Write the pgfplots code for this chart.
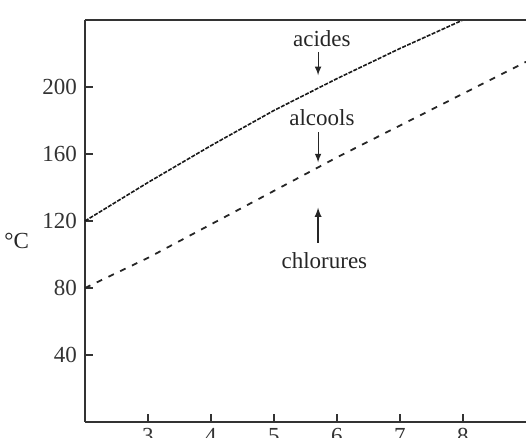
\documentclass[border=0pt]{standalone}
\usepackage{fontspec}
\setmainfont{Liberation Serif}
\usepackage{pgfplots}
\pgfplotsset{compat=1.18}
\begin{document}
\fontsize{11.5}{13}\selectfont
\begin{tikzpicture}
\begin{axis}[
  scale only axis, width=220.5pt, height=201pt,
  at={(0,0)}, anchor=south west,
  xmin=2, xmax=9, ymin=0, ymax=240,
  axis lines=left, axis line style={-, black!80, line width=0.8pt},
  xtick={3,4,5,6,7,8}, ytick={40,80,120,160,200},
  tick align=inside, major tick length=4pt,
  tick style={black!80, line width=0.6pt},
  /pgf/number format/assume math mode=true,
  ticklabel style={font=\fontsize{11.5}{13}\selectfont, text=black!80},
  xticklabel style={yshift=1pt},
  clip=false,
]
% boiling points, acids (C2--C8)
\addplot[black!90, line width=0.8pt, dash pattern=on 2pt off 0.7pt]
  coordinates {(2,120)(3,143)(4,165)(5,186)(6,205)(7,223)(8,240)};
% boiling points, alcohols (C2--C9)
\addplot[black!85, line width=0.9pt, dash pattern=on 3pt off 3.5pt]
  coordinates {(2,80)(3,98)(4,118)(5,138)(6,158)(7,177)(8,196)(9,215)};
% upper frame line
\draw[black!80, line width=1pt] (rel axis cs:0,1) -- (rel axis cs:1,1);
% annotations
\node[text=black!85] at (axis cs:5.76,229) {acides};
\draw[-latex, black!85, line width=0.5pt] (axis cs:5.70,221) -- (axis cs:5.70,207);
\node[text=black!85] at (axis cs:5.76,181.5) {alcools};
\draw[-latex, black!85, line width=0.5pt] (axis cs:5.70,173) -- (axis cs:5.70,155);
\node[text=black!85] at (axis cs:5.80,96.5) {chlorures};
\draw[-latex, black!85, line width=0.6pt] (axis cs:5.70,107) -- (axis cs:5.70,128);
\node[text=black!85, anchor=east] at (rel axis cs:0,0.45) [xshift=-24pt] {°C};
\end{axis}
\pgfresetboundingbox
\useasboundingbox (-42.5pt,-8pt) rectangle (220.5pt,211pt);
\end{tikzpicture}
\end{document}
